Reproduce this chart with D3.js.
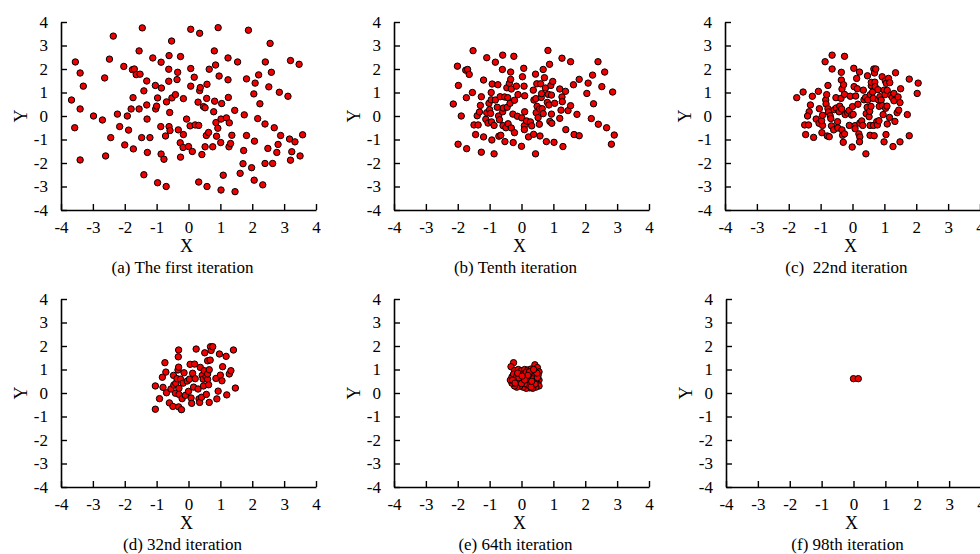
<!DOCTYPE html>
<html>
<head>
<meta charset="utf-8">
<script src="https://cdn.jsdelivr.net/npm/d3@7"></script>
<style>
  html, body { margin: 0; padding: 0; background: #fff; }
  svg { display: block; }
  text { font-family: "Liberation Serif", "Times New Roman", serif; fill: #000; white-space: pre; }
</style>
</head>
<body>
<script>
// Tick values shared by every panel
const xTicks = [-4, -3, -2, -1, 0, 1, 2, 3, 4];
const yTicks = [-4, -3, -2, -1, 0, 1, 2, 3, 4];

const captions = [
  "(a) The first iteration",
  "(b) Tenth iteration",
  "(c)  22nd iteration",
  "(d) 32nd iteration",
  "(e) 64th iteration",
  "(f) 98th iteration"
];

// Population positions [x, y] at each iteration
const iter1 = [
  [-3.67,0.68],[-3.55,2.3],[-3.4,1.83],[-3.3,1.27],[-3.4,0.3],[-3.57,-0.5],[-3.4,-1.87],[-2.98,0.0],
  [-2.7,-0.17],[-2.63,1.62],[-2.36,3.4],[-2.48,2.42],[-2.6,-1.7],[-2.44,-0.92],[-2.23,0.08],[-2.16,-0.45],
  [-2.03,2.11],[-2.0,-1.23],[-1.92,0.0],[-1.88,-0.6],[-1.8,0.3],[-1.74,0.78],[-1.73,-1.4],[-1.76,1.97],
  [-1.7,2.0],[-1.64,1.76],[-1.52,1.78],[-1.55,2.77],[-1.55,0.3],[-1.45,3.75],[-1.47,-0.92],[-1.4,1.07],
  [-1.4,-2.5],[-1.31,1.49],[-1.31,0.47],[-1.3,-0.13],[-1.29,-1.55],[-1.21,-0.92],[-1.12,2.47],[-1.04,1.3],
  [-1.03,0.3],[-1.0,0.42],[-0.97,0.77],[-0.97,-2.84],[-0.86,2.29],[-0.85,1.19],[-0.87,-0.45],[-0.86,-1.62],
  [-0.77,-1.84],[-0.72,-0.85],[-0.7,-3.0],[-0.69,0.6],[-0.61,2.57],[-0.62,1.99],[-0.62,1.48],[-0.59,0.15],
  [-0.61,-0.45],[-0.58,-0.62],[-0.53,3.19],[-0.52,0.77],[-0.41,0.91],[-0.34,1.86],[-0.36,1.55],[-0.32,-0.59],
  [-0.26,-1.14],[-0.25,2.53],[-0.25,-1.75],[-0.16,0.74],[-0.16,-0.79],[-0.17,-1.34],[-0.06,-0.13],[0.0,-1.3],
  [0.05,-0.42],[0.07,3.69],[0.07,2.02],[0.07,1.27],[0.12,-1.51],[0.18,1.65],[0.21,-0.38],[0.32,-0.4],
  [0.3,0.59],[0.35,3.52],[0.35,1.08],[0.37,1.21],[0.32,-2.81],[0.42,-1.64],[0.47,0.4],[0.52,0.35],
  [0.52,-1.31],[0.56,-0.83],[0.57,0.75],[0.58,1.35],[0.58,-3.0],[0.63,-0.7],[0.65,1.99],[0.76,-1.31],
  [0.79,0.18],[0.81,2.77],[0.82,0.63],[0.85,2.17],[0.86,-0.28],[0.88,-0.86],[0.92,-0.52],[0.93,3.76],
  [0.96,1.7],[1.01,-1.13],[1.02,-0.13],[1.04,0.53],[1.02,-3.15],[1.09,-2.52],[1.19,-0.08],[1.24,2.47],
  [1.25,0.79],[1.24,1.54],[1.28,-0.29],[1.27,-1.31],[1.32,-1.17],[1.36,-0.82],[1.46,-3.22],[1.45,0.24],
  [1.54,2.3],[1.62,-2.44],[1.71,-2.03],[1.73,-1.47],[1.75,0.05],[1.82,-0.83],[1.82,1.58],[1.88,3.65],
  [1.98,-2.2],[2.06,-2.73],[2.07,-1.07],[2.05,0.94],[2.09,1.4],[2.17,-0.11],[2.2,1.75],[2.24,0.52],
  [2.33,-2.93],[2.4,-0.34],[2.4,-2.02],[2.41,2.3],[2.49,-1.38],[2.52,1.24],[2.56,3.09],[2.6,1.86],
  [2.64,-2.02],[2.69,-0.5],[2.77,-1.55],[2.81,-1.21],[2.85,1.01],[2.89,-0.83],[3.12,0.84],[3.17,-0.98],
  [3.2,2.36],[3.2,-1.88],[3.24,-1.52],[3.34,-1.1],[3.47,2.2],[3.5,-1.7],[3.58,-0.8]
];

const iter10 = [
  [-2.14,0.51],[-2.01,2.12],[-1.98,1.3],[-1.99,-1.2],[-1.89,0.0],[-1.75,1.95],[-1.69,1.98],[-1.64,1.77],
  [-1.73,0.78],[-1.72,-1.39],[-1.54,1.0],[-1.52,2.78],[-1.49,-0.38],[-1.44,-0.79],[-1.39,0.01],[-1.36,-0.38],
  [-1.32,0.17],[-1.29,0.45],[-1.26,0.82],[-1.26,-1.54],[-1.19,1.53],[-1.19,-0.89],[-1.12,-0.14],[-1.09,2.48],
  [-1.09,0.14],[-1.05,-0.3],[-1.02,0.54],[-1.0,0.27],[-0.95,0.69],[-0.95,1.0],[-0.92,1.36],[-0.93,-1.02],
  [-0.97,0.11],[-0.94,-0.25],[-0.86,-0.4],[-0.86,-1.61],[-0.82,2.29],[-0.82,0.68],[-0.76,0.37],[-0.74,1.33],
  [-0.72,0.0],[-0.71,-0.86],[-0.69,-0.16],[-0.67,0.82],[-0.65,-0.82],[-0.6,1.98],[-0.59,2.59],[-0.59,0.18],
  [-0.58,-0.41],[-0.57,0.34],[-0.53,0.81],[-0.52,-1.09],[-0.49,-0.5],[-0.46,1.2],[-0.45,0.37],[-0.43,0.78],
  [-0.42,-0.33],[-0.36,0.54],[-0.38,1.39],[-0.34,1.56],[-0.34,1.87],[-0.32,1.15],[-0.32,-0.51],[-0.27,0.08],
  [-0.26,-1.13],[-0.24,2.54],[-0.22,0.67],[-0.22,-0.71],[-0.16,1.27],[-0.13,-0.01],[-0.11,0.91],[0.0,-1.29],
  [0.01,-0.08],[0.03,1.67],[0.07,2.03],[0.08,1.27],[0.1,0.86],[0.1,0.18],[0.09,-0.41],[0.09,-0.58],
  [0.16,-0.21],[0.22,-0.89],[0.28,-0.25],[0.32,-0.42],[0.37,1.1],[0.38,-0.78],[0.39,0.68],[0.45,0.74],
  [0.44,1.78],[0.44,-1.61],[0.46,0.14],[0.48,1.37],[0.49,0.41],[0.52,-0.07],[0.56,-0.35],[0.57,0.31],
  [0.58,-0.85],[0.6,1.37],[0.62,0.79],[0.63,0.95],[0.65,0.31],[0.68,1.98],[0.68,0.1],[0.72,1.63],
  [0.75,1.19],[0.78,-1.09],[0.81,0.58],[0.83,2.79],[0.84,0.92],[0.88,2.2],[0.86,0.47],[0.89,-0.23],
  [0.92,1.3],[0.94,0.89],[0.95,-0.31],[0.94,0.08],[0.98,1.47],[1.04,0.54],[1.02,-1.12],[1.2,1.15],
  [1.2,-0.1],[1.24,0.25],[1.27,0.81],[1.28,0.61],[1.27,2.46],[1.3,-1.3],[1.38,1.05],[1.39,-0.58],
  [1.46,0.23],[1.54,0.44],[1.54,2.31],[1.63,1.33],[1.65,-0.79],[1.74,0.07],[1.81,-0.84],[1.81,1.56],
  [2.05,0.96],[2.09,1.4],[2.19,-0.11],[2.23,1.74],[2.26,0.52],[2.4,2.31],[2.41,-0.35],[2.52,1.25],
  [2.61,1.87],[2.67,-0.5],[2.82,-1.2],[2.86,1.02],[2.91,-0.81]
];

const iter22 = [
  [-1.75,0.78],[-1.55,1.02],[-1.26,0.84],[-1.32,0.47],[-1.36,0.18],[-1.41,0.0],[-1.5,-0.38],[-1.38,-0.38],
  [-1.47,-0.79],[-1.22,-0.91],[-1.14,-0.13],[-1.07,1.05],[-1.04,0.31],[-1.05,-0.31],[-0.94,-0.4],[-0.97,-0.2],
  [-0.96,-0.71],[-0.94,0.03],[-0.86,2.31],[-0.84,0.68],[-0.83,0.51],[-0.81,0.91],[-0.77,1.3],[-0.77,0.31],
  [-0.75,0.17],[-0.79,-0.85],[-0.73,-0.88],[-0.7,0.01],[-0.68,-0.11],[-0.66,-0.42],[-0.64,2.59],[-0.64,2.0],
  [-0.59,-0.59],[-0.57,0.27],[-0.52,0.78],[-0.51,0.34],[-0.47,-0.24],[-0.46,-0.51],[-0.42,0.18],[-0.4,0.42],
  [-0.36,0.75],[-0.35,1.86],[-0.35,1.53],[-0.33,1.15],[-0.34,0.3],[-0.33,-0.59],[-0.31,-0.82],[-0.29,-1.12],
  [-0.28,1.33],[-0.25,2.54],[-0.25,0.92],[-0.25,-0.76],[-0.23,0.06],[-0.15,0.13],[-0.11,0.23],[-0.1,-0.4],
  [-0.07,0.84],[-0.03,0.04],[-0.01,-1.32],[0.0,0.4],[0.02,0.07],[0.04,2.03],[0.05,1.25],[0.08,-0.41],
  [0.08,-0.54],[0.1,0.85],[0.13,1.6],[0.15,1.16],[0.17,0.5],[0.2,-0.76],[0.22,1.87],[0.23,-0.3],
  [0.23,-0.89],[0.22,-1.1],[0.29,-0.21],[0.32,-0.4],[0.34,1.1],[0.36,0.69],[0.41,0.79],[0.42,-1.61],
  [0.43,0.1],[0.46,0.37],[0.47,1.71],[0.48,0.68],[0.52,-0.03],[0.54,0.2],[0.56,0.91],[0.55,-0.4],
  [0.55,-0.82],[0.58,0.41],[0.59,1.29],[0.59,1.43],[0.63,1.02],[0.65,0.75],[0.66,-0.4],[0.67,2.0],
  [0.68,-0.84],[0.69,1.83],[0.7,1.44],[0.71,1.25],[0.73,2.0],[0.76,-0.24],[0.78,-0.38],[0.8,1.12],
  [0.81,0.69],[0.83,-0.2],[0.84,0.41],[0.86,0.82],[0.9,0.68],[0.93,1.67],[0.94,0.44],[0.96,0.06],
  [0.99,-1.1],[0.99,1.1],[1.02,0.91],[1.03,1.5],[1.04,0.33],[1.05,-0.79],[1.06,1.39],[1.08,0.42],
  [1.09,1.09],[1.09,-0.34],[1.13,1.6],[1.16,-0.06],[1.17,1.42],[1.2,0.88],[1.25,0.79],[1.27,-1.3],
  [1.3,0.96],[1.3,0.65],[1.33,-0.23],[1.35,1.84],[1.4,0.14],[1.43,0.81],[1.45,0.25],[1.49,-1.1],
  [1.49,0.57],[1.51,1.16],[1.72,0.06],[1.78,-0.84],[1.78,1.57],[2.03,0.96],[2.06,1.4]
];

const iter32 = [
  [-1.04,0.3],[-1.04,-0.69],[-0.91,-0.24],[-0.82,0.67],[-0.8,0.24],[-0.74,1.29],[-0.71,0.89],[-0.69,0.01],
  [-0.6,-0.42],[-0.55,0.17],[-0.49,-0.57],[-0.47,0.75],[-0.46,0.34],[-0.41,-0.01],[-0.4,0.41],[-0.36,0.61],
  [-0.33,0.98],[-0.31,1.83],[-0.32,1.54],[-0.31,1.1],[-0.3,-0.06],[-0.3,0.2],[-0.31,-0.59],[-0.25,0.59],
  [-0.22,-0.71],[-0.2,-0.24],[-0.17,0.42],[-0.14,0.86],[-0.1,-0.1],[-0.04,0.51],[0.0,0.07],[0.03,0.59],
  [0.05,1.22],[0.08,-0.21],[0.1,-0.44],[0.13,0.84],[0.16,0.25],[0.19,1.23],[0.21,0.61],[0.24,1.87],
  [0.3,0.17],[0.33,-0.25],[0.35,-0.4],[0.37,1.09],[0.41,-0.18],[0.43,0.75],[0.46,0.59],[0.47,0.3],
  [0.49,0.95],[0.51,1.71],[0.55,0.69],[0.56,-0.06],[0.6,0.58],[0.6,0.81],[0.6,1.37],[0.63,0.35],
  [0.65,0.99],[0.65,-0.4],[0.68,1.4],[0.69,1.97],[0.71,1.81],[0.76,1.97],[0.86,0.62],[0.89,-0.25],
  [0.93,0.08],[0.97,1.66],[1.0,0.76],[1.05,0.52],[1.07,1.12],[1.18,1.56],[1.2,-0.08],[1.28,0.81],
  [1.33,0.95],[1.41,1.83],[1.47,0.21]
];

const iter64 = [
  [-0.25,1.29],[-0.33,1.12],[-0.22,0.95],[-0.1,1.0],[0.0,0.95],[0.1,1.0],[0.2,0.98],[0.3,1.02],
  [0.42,1.2],[0.5,1.08],[0.55,0.9],[0.52,0.75],[0.55,0.55],[0.5,0.4],[0.55,0.3],[0.45,0.25],
  [0.35,0.2],[0.25,0.22],[0.15,0.2],[0.05,0.25],[-0.05,0.3],[-0.15,0.25],[-0.22,0.3],[-0.3,0.42],
  [-0.35,0.55],[-0.3,0.68],[-0.25,0.8],[-0.15,0.7],[-0.18,0.55],[-0.1,0.45],[0.0,0.6],[0.05,0.8],
  [0.12,0.68],[0.18,0.5],[0.25,0.62],[0.3,0.8],[0.38,0.9],[0.4,0.7],[0.45,0.55],[0.35,0.45],
  [0.28,0.35],[0.2,0.35],[0.1,0.4],[0.0,0.4],[-0.08,0.65],[0.15,0.88],[0.25,0.9],[0.35,0.6],
  [0.42,0.38],[0.5,0.65],[0.2,0.75],[0.1,0.55],[-0.28,0.55],[-0.2,0.42],[0.3,0.25],[0.48,0.85],
  [0.38,1.0],[-0.12,0.85],[0.02,0.72],[0.32,0.5]
];

const iter98 = [[0.0,0.61],[0.15,0.61]];

const series = [iter1, iter10, iter22, iter32, iter64, iter98];

// Layout of the 2 x 3 grid of panels
const W = 980, H = 554;
const plotW = 255, plotH = 188;
const colX = [61, 394, 725];
const rowY = [22, 299];

const svg = d3.select("body").append("svg")
  .attr("width", W).attr("height", H)
  .attr("viewBox", `0 0 ${W} ${H}`);

series.forEach((pts, i) => {
  const col = i % 3, row = Math.floor(i / 3);
  const x0 = colX[col] + (i === 5 ? 1 : 0);
  const y0 = rowY[row];

  const x = d3.scaleLinear().domain([-4, 4]).range([x0, x0 + plotW]);
  const y = d3.scaleLinear().domain([-4, 4]).range([y0 + plotH, y0]);

  const g = svg.append("g");

  // x axis with inward ticks
  const xAxis = g.append("g")
    .attr("transform", `translate(0,${y0 + plotH})`)
    .call(d3.axisBottom(x).tickValues(xTicks).tickFormat(d => String(d))
      .tickSizeInner(-6).tickSizeOuter(0).tickPadding(11));

  // y axis with inward ticks
  const yAxis = g.append("g")
    .attr("transform", `translate(${x0},0)`)
    .call(d3.axisLeft(y).tickValues(yTicks).tickFormat(d => String(d))
      .tickSizeInner(-6).tickSizeOuter(0).tickPadding(13));

  [xAxis, yAxis].forEach(a => {
    a.select(".domain").attr("stroke", "#000").attr("stroke-width", 1.6);
    a.selectAll(".tick line").attr("stroke", "#000").attr("stroke-width", 1.4);
    a.selectAll(".tick text")
      .style("font-family", '"Liberation Serif", "Times New Roman", serif')
      .style("font-size", "17px").attr("fill", "#000");
  });

  // axis titles
  g.append("text")
    .attr("x", x0 + plotW / 2 - 2).attr("y", y0 + plotH + 42)
    .attr("text-anchor", "middle").style("font-size", "18px")
    .text("X");
  g.append("text")
    .attr("transform", `translate(${x0 - 34},${y0 + plotH / 2}) rotate(-90)`)
    .attr("text-anchor", "middle").style("font-size", "18px")
    .text("Y");

  // caption
  g.append("text")
    .attr("x", x0 + plotW / 2 - 6).attr("y", y0 + plotH + 63)
    .attr("text-anchor", "middle").style("font-size", "17px")
    .text(captions[i]);

  // population points
  g.append("g").selectAll("circle").data(pts).join("circle")
    .attr("cx", d => x(d[0])).attr("cy", d => y(d[1]))
    .attr("r", 3.2)
    .attr("fill", "#f00000").attr("stroke", "#000").attr("stroke-width", 1);
});
</script>
</body>
</html>
